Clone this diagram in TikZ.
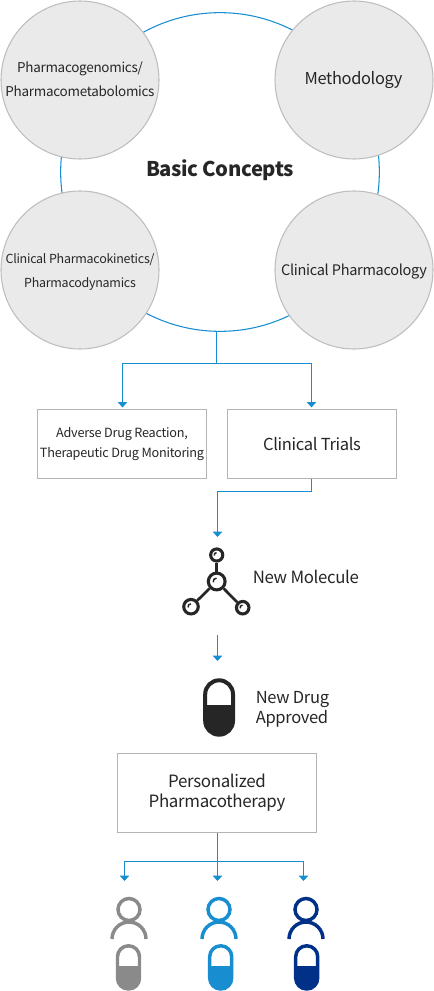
\documentclass[tikz,border=0pt]{standalone}
\usepackage{fontspec}
\setmainfont[LetterSpace=-2]{Noto Sans CJK KR}
\usetikzlibrary{arrows.meta}
\definecolor{line_blue}{RGB}{24,142,209}
\definecolor{deep_blue}{RGB}{0,48,135}
\definecolor{mid_gray}{RGB}{138,138,138}
\definecolor{ink}{RGB}{38,38,38}
\definecolor{disc_fill}{RGB}{234,234,234}
\definecolor{disc_line}{RGB}{190,190,190}
\definecolor{box_line}{RGB}{180,180,180}
\tikzset{
  flow/.style={draw=line_blue,line width=0.8pt,-{Triangle[width=7pt,length=4pt]}},
  plain/.style={draw=line_blue,line width=0.8pt},
  disc/.style={circle,draw=disc_line,fill=disc_fill,line width=0.8pt,minimum size=118.5pt,inner sep=0pt},
  disctext/.style={inner sep=0pt,align=center,text=ink},
  box/.style={draw=box_line,line width=0.9pt,inner sep=0pt,align=center,text=ink},
  atom/.style={circle,draw=ink,line width=2.3pt,fill=white,inner sep=0pt},
  mid/.style={font=\fontsize{12.4}{15}\selectfont,text=ink,align=left},
}
\begin{document}
\begin{tikzpicture}[x=0.75pt,y=-0.75pt]
        \useasboundingbox (0,0) rectangle (434,991);
        \node[circle,draw=line_blue,line width=0.8pt,minimum size=239pt,inner sep=0pt] (ring) at (220,172) {};
        \node[disc] (genomics) at (80,80) {};
        \node[disc] (method) at (354,80) {};
        \node[disc] (kinetics) at (80,270) {};
        \node[disc] (clinpharm) at (354,270) {};
        \node[disctext,font=\fontsize{10.1}{18}\selectfont] (genomicstext) at (80,79.5) {Pharmacogenomics/\\Pharmacometabolomics};
        \node[disctext,font=\fontsize{12.3}{15}\selectfont] (methodtext) at (353.5,80) {Methodology};
        \node[disctext,font=\fontsize{9.35}{18}\selectfont] (kineticstext) at (80,272) {Clinical Pharmacokinetics/\\Pharmacodynamics};
        \node[disctext,font=\fontsize{10.9}{15}\selectfont] (clinpharmtext) at (354,272) {Clinical Pharmacology};
        \node[font=\fontsize{15.2}{18}\bfseries\selectfont,text=ink] (basic) at (220,170.5) {Basic Concepts};

        \node[box,font=\fontsize{9.5}{15}\selectfont,minimum width=126.5pt,minimum height=51.5pt] (adverse) at (122,444) {Adverse Drug Reaction,\\Therapeutic Drug Monitoring};
        \node[box,font=\fontsize{12.4}{15}\selectfont,minimum width=126.5pt,minimum height=51.5pt] (trials) at (312,444) {Clinical Trials};
        \coordinate (split) at (216.5,363.5);
        \draw[plain] (split |- ring.south) -- (split);
        \draw[flow,shorten >=1.2pt] (split) -| ([xshift=0.375pt]adverse.north);
        \draw[flow,shorten >=1.2pt] (split) -| ([xshift=-0.375pt]trials.north);
        \coordinate (molin) at (217.5,537);
        \draw[flow] ([xshift=-0.375pt]trials.south) |- (molin |- 0,491.5) -- (molin);

        % molecule
        \node[atom,minimum size=12.6pt] (core) at (216.7,581.5) {};
        \node[atom,minimum size=9.1pt] (atomtop) at (216.7,555) {};
        \node[atom,minimum size=10.9pt] (atomleft) at (191,606.7) {};
        \node[atom,minimum size=9.4pt] (atomright) at (242.7,607.7) {};
        \draw[ink,line width=2pt] (core) -- (atomtop);
        \draw[ink,line width=2pt] (core) -- (atomleft);
        \draw[ink,line width=2pt] (core) -- (atomright);
        \foreach \ax/\ay/\sz in {216.7/581.5/1, 216.7/555/0.7, 191/606.7/0.85, 242.7/607.7/0.75}{
          \draw[ink,line width=1.1pt] ({\ax-3.4*\sz},{\ay+0.8*\sz}) .. controls ({\ax-3.2*\sz},{\ay-2.4*\sz}) .. ({\ax-0.2*\sz},{\ay-3.4*\sz});
        }
        \node[mid,anchor=west,font=\fontsize{12.6}{15}\selectfont,inner sep=0pt] (molecule) at (252.5,577) {New Molecule};

        \coordinate (drugout) at (217.5,635);
        \coordinate (drugin) at (217.5,661);
        \draw[flow] (drugout) -- (drugin);
        \node[mid,anchor=west,inner sep=0pt] (approved) at (255.5,709) {New Drug\\Approved};

        \node[box,font=\fontsize{12.7}{15}\selectfont,minimum width=149.5pt,minimum height=59.5pt] (personal) at (217,793) {Personalized\\Pharmacotherapy};
        \coordinate (fork) at (217.5,861.5);
        \coordinate (forka) at (124.5,881);
        \coordinate (forkb) at (217.5,881);
        \coordinate (forkc) at (303.5,881);
        \draw[plain] (fork |- personal.south) -- (fork);
        \draw[flow] (fork) -| (forka);
        \draw[flow] (fork) -- (forkb);
        \draw[flow] (fork) -| (forkc);

        % people
        \foreach \px/\col in {129/mid_gray, 219/line_blue, 306/deep_blue}{
          \node[circle,draw=\col,line width=2.6pt,minimum size=16.5pt,inner sep=0pt] (head\px) at (\px,909.5) {};
          \draw[\col,line width=2.6pt] ({\px-17},939) arc[start angle=180,end angle=360,radius=17];
        }
        % capsules
        \foreach \cx/\ytop/\ymid/\ybot/\wd/\rr/\lw/\col in {
          219.1/680.3/705/734.7/13.9/10.4/3/ink,
          128.5/945.8/966/989/11/8.2/2.6/mid_gray,
          220.7/945.8/966/989/11/8.2/2.6/line_blue,
          306.7/945.8/966/989/11/8.2/2.6/deep_blue}{
          \pgfmathsetmacro{\lft}{\cx-\wd}
          \pgfmathsetmacro{\rgt}{\cx+\wd}
          \fill[\col] (\lft,\ymid) [rounded corners=\rr pt] -- (\lft,\ybot) -- (\rgt,\ybot) [sharp corners] -- (\rgt,\ymid) -- cycle;
          \draw[\col,line width=\lw pt,rounded corners=\rr pt] (\lft,\ytop) rectangle (\rgt,\ybot);
        }
      \end{tikzpicture}
\end{document}
